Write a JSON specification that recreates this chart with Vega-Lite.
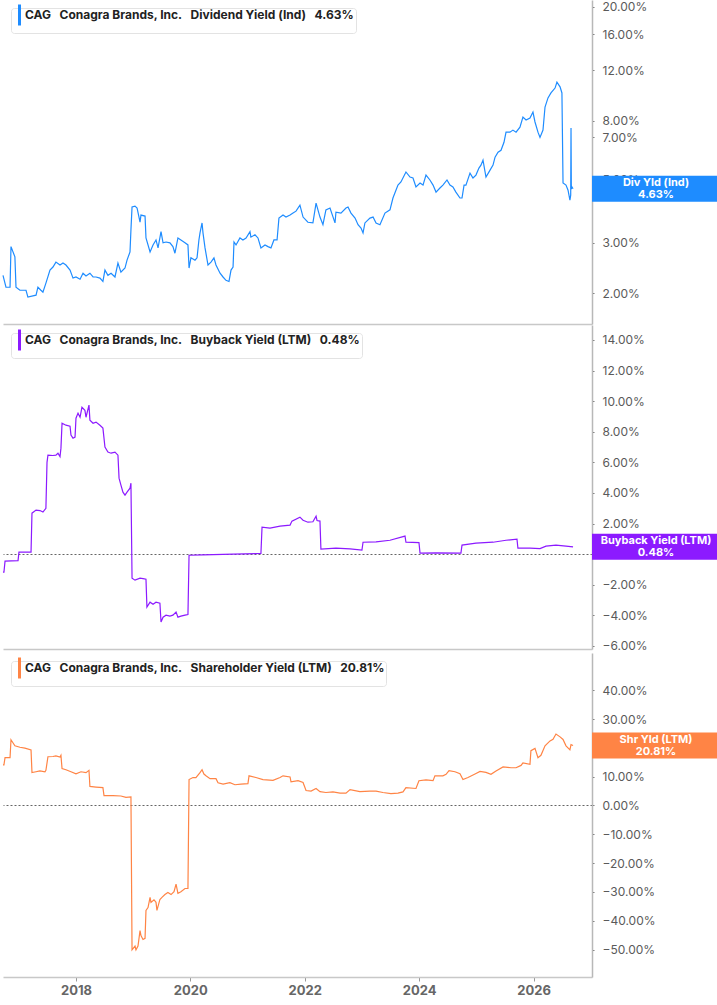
{
  "$schema": "https://vega.github.io/schema/vega-lite/v6.json",
  "padding": 0,
  "background": "white",
  "spacing": 1,
  "datasets": {
    "div": [
      {"date":"2016-09-22","value":2.31},{"date":"2016-10-11","value":2.10},{"date":"2016-11-06","value":2.10},{"date":"2016-11-12","value":2.91},{"date":"2016-12-07","value":2.68},{"date":"2016-12-14","value":2.10},{"date":"2017-01-08","value":2.05},{"date":"2017-02-16","value":2.05},{"date":"2017-02-28","value":1.94},{"date":"2017-04-01","value":1.96},{"date":"2017-04-21","value":1.97},{"date":"2017-05-03","value":2.10},{"date":"2017-05-22","value":2.05},{"date":"2017-06-04","value":2.02},{"date":"2017-06-23","value":2.17},{"date":"2017-07-19","value":2.41},{"date":"2017-08-07","value":2.47},{"date":"2017-08-26","value":2.57},{"date":"2017-09-21","value":2.51},{"date":"2017-10-10","value":2.55},{"date":"2017-10-29","value":2.51},{"date":"2017-11-24","value":2.41},{"date":"2017-12-13","value":2.26},
      {"date":"2018-01-01","value":2.28},{"date":"2018-01-27","value":2.24},{"date":"2018-02-15","value":2.35},{"date":"2018-03-06","value":2.30},{"date":"2018-03-31","value":2.35},{"date":"2018-04-20","value":2.28},{"date":"2018-05-09","value":2.28},{"date":"2018-06-03","value":2.26},{"date":"2018-06-22","value":2.20},{"date":"2018-07-05","value":2.41},{"date":"2018-07-24","value":2.31},{"date":"2018-08-13","value":2.35},{"date":"2018-09-07","value":2.28},{"date":"2018-09-26","value":2.55},{"date":"2018-10-15","value":2.37},{"date":"2018-11-10","value":2.45},{"date":"2018-11-23","value":2.61},{"date":"2018-12-12","value":2.79},{"date":"2018-12-18","value":3.33},{"date":"2018-12-25","value":4.00},
      {"date":"2019-01-13","value":4.03},{"date":"2019-01-26","value":3.97},{"date":"2019-02-14","value":3.54},{"date":"2019-02-20","value":3.75},{"date":"2019-03-18","value":3.72},{"date":"2019-03-24","value":3.12},{"date":"2019-04-19","value":2.79},{"date":"2019-05-08","value":2.95},{"date":"2019-05-27","value":3.07},{"date":"2019-06-09","value":2.88},{"date":"2019-06-28","value":3.28},{"date":"2019-07-11","value":3.00},{"date":"2019-07-30","value":3.02},{"date":"2019-08-24","value":3.00},{"date":"2019-09-12","value":2.91},{"date":"2019-09-25","value":2.76},{"date":"2019-10-14","value":3.12},{"date":"2019-11-02","value":3.07},{"date":"2019-11-28","value":3.00},{"date":"2019-12-17","value":2.95},{"date":"2019-12-24","value":2.45},
      {"date":"2020-01-05","value":2.66},{"date":"2020-01-31","value":2.61},{"date":"2020-02-13","value":2.66},{"date":"2020-02-25","value":3.07},{"date":"2020-03-03","value":3.25},{"date":"2020-03-16","value":3.52},{"date":"2020-03-22","value":3.25},{"date":"2020-04-04","value":2.88},{"date":"2020-04-23","value":2.51},{"date":"2020-05-12","value":2.57},{"date":"2020-05-31","value":2.66},{"date":"2020-06-13","value":2.51},{"date":"2020-07-09","value":2.35},{"date":"2020-07-28","value":2.28},{"date":"2020-08-16","value":2.22},{"date":"2020-09-04","value":2.20},{"date":"2020-09-17","value":2.41},{"date":"2020-09-30","value":2.47},{"date":"2020-10-06","value":3.02},{"date":"2020-10-19","value":2.95},{"date":"2020-11-13","value":3.12},{"date":"2020-12-02","value":3.07},{"date":"2020-12-22","value":3.12},
      {"date":"2021-01-16","value":3.28},{"date":"2021-01-22","value":3.14},{"date":"2021-02-17","value":3.20},{"date":"2021-03-08","value":3.12},{"date":"2021-03-27","value":2.88},{"date":"2021-04-22","value":2.95},{"date":"2021-05-11","value":2.91},{"date":"2021-05-30","value":2.88},{"date":"2021-06-18","value":3.07},{"date":"2021-07-08","value":3.07},{"date":"2021-07-20","value":3.66},{"date":"2021-08-15","value":3.75},{"date":"2021-09-03","value":3.69},{"date":"2021-09-29","value":3.75},{"date":"2021-10-18","value":3.81},{"date":"2021-11-06","value":3.87},{"date":"2021-12-01","value":4.06},{"date":"2021-12-21","value":3.69},
      {"date":"2022-01-21","value":3.54},{"date":"2022-02-22","value":3.52},{"date":"2022-03-14","value":4.13},{"date":"2022-04-08","value":3.69},{"date":"2022-04-27","value":3.47},{"date":"2022-05-16","value":3.91},{"date":"2022-06-11","value":3.97},{"date":"2022-07-13","value":3.52},{"date":"2022-07-19","value":3.84},{"date":"2022-08-20","value":3.81},{"date":"2022-09-21","value":3.97},{"date":"2022-10-04","value":4.00},{"date":"2022-10-23","value":3.81},{"date":"2022-11-18","value":3.66},{"date":"2022-12-07","value":3.47},{"date":"2022-12-26","value":3.38},
      {"date":"2023-01-08","value":3.25},{"date":"2023-01-20","value":3.52},{"date":"2023-02-21","value":3.66},{"date":"2023-03-13","value":3.69},{"date":"2023-04-01","value":3.52},{"date":"2023-04-26","value":3.47},{"date":"2023-05-28","value":3.81},{"date":"2023-06-29","value":3.91},{"date":"2023-07-18","value":4.30},{"date":"2023-08-19","value":4.77},{"date":"2023-09-07","value":4.89},{"date":"2023-10-09","value":5.30},{"date":"2023-11-04","value":5.09},{"date":"2023-11-23","value":5.05},{"date":"2023-12-12","value":4.70},
      {"date":"2024-01-07","value":4.85},{"date":"2024-01-26","value":4.77},{"date":"2024-02-14","value":5.17},{"date":"2024-03-10","value":4.97},{"date":"2024-03-30","value":4.77},{"date":"2024-04-18","value":4.51},{"date":"2024-05-13","value":4.66},{"date":"2024-06-01","value":4.77},{"date":"2024-06-27","value":4.97},{"date":"2024-07-16","value":4.77},{"date":"2024-08-04","value":4.70},{"date":"2024-08-23","value":4.51},{"date":"2024-09-18","value":4.30},{"date":"2024-10-01","value":4.30},{"date":"2024-10-14","value":4.77},{"date":"2024-10-26","value":4.77},{"date":"2024-11-21","value":5.25},{"date":"2024-12-10","value":5.05},{"date":"2024-12-29","value":5.17},
      {"date":"2025-01-17","value":5.47},{"date":"2025-01-30","value":5.60},{"date":"2025-02-12","value":5.83},{"date":"2025-03-03","value":5.09},{"date":"2025-03-29","value":5.38},{"date":"2025-04-17","value":5.60},{"date":"2025-04-30","value":5.97},{"date":"2025-05-19","value":6.21},{"date":"2025-06-07","value":6.31},{"date":"2025-06-26","value":6.73},{"date":"2025-07-09","value":7.30},{"date":"2025-08-03","value":7.30},{"date":"2025-08-22","value":7.42},{"date":"2025-09-11","value":7.30},{"date":"2025-10-06","value":7.60},{"date":"2025-10-25","value":8.24},{"date":"2025-11-14","value":8.05},{"date":"2025-12-09","value":8.18},{"date":"2025-12-28","value":8.58},
      {"date":"2026-01-10","value":7.92},{"date":"2026-01-29","value":7.30},{"date":"2026-02-11","value":7.00},{"date":"2026-03-02","value":7.42},{"date":"2026-03-15","value":8.93},{"date":"2026-04-03","value":9.61},{"date":"2026-04-22","value":10.0},{"date":"2026-05-18","value":10.4},{"date":"2026-05-30","value":10.9},{"date":"2026-06-19","value":10.5},{"date":"2026-07-01","value":10.0},{"date":"2026-07-08","value":4.85},{"date":"2026-07-27","value":4.77},{"date":"2026-08-09","value":4.58},{"date":"2026-08-21","value":4.23},{"date":"2026-08-26","value":4.40},{"date":"2026-08-28","value":7.54},{"date":"2026-08-30","value":4.62},{"date":"2026-09-03","value":4.70},{"date":"2026-09-10","value":4.63}
    ],
    "buy": [
      {"date":"2016-09-22","value":-1.18},{"date":"2016-09-28","value":-1.18},{"date":"2016-10-05","value":-0.46},{"date":"2016-12-27","value":-0.42},{"date":"2017-01-02","value":0.13},{"date":"2017-03-20","value":0.13},{"date":"2017-03-26","value":2.68},{"date":"2017-04-21","value":2.88},{"date":"2017-05-16","value":2.85},{"date":"2017-06-04","value":2.75},{"date":"2017-06-23","value":3.0},{"date":"2017-06-30","value":6.0},{"date":"2017-07-06","value":6.47},{"date":"2017-08-07","value":6.45},{"date":"2017-08-26","value":6.47},{"date":"2017-09-08","value":6.6},{"date":"2017-09-21","value":6.38},{"date":"2017-09-27","value":6.93},{"date":"2017-10-04","value":8.56},{"date":"2017-10-29","value":8.43},{"date":"2017-11-24","value":8.36},{"date":"2017-11-30","value":7.78},{"date":"2017-12-13","value":7.58},{"date":"2017-12-26","value":7.65},
      {"date":"2018-01-01","value":8.89},{"date":"2018-01-14","value":9.22},{"date":"2018-01-27","value":8.95},{"date":"2018-02-08","value":9.6},{"date":"2018-02-27","value":9.4},{"date":"2018-03-06","value":8.95},{"date":"2018-03-25","value":9.74},{"date":"2018-03-31","value":8.76},{"date":"2018-04-20","value":8.56},{"date":"2018-05-09","value":8.63},{"date":"2018-06-03","value":8.43},{"date":"2018-06-22","value":8.24},{"date":"2018-07-05","value":7.0},{"date":"2018-07-24","value":6.67},{"date":"2018-08-13","value":6.6},{"date":"2018-09-07","value":6.67},{"date":"2018-09-26","value":6.47},{"date":"2018-10-03","value":4.97},{"date":"2018-10-15","value":4.51},{"date":"2018-10-28","value":4.05},{"date":"2018-11-10","value":3.86},{"date":"2018-11-23","value":4.05},{"date":"2018-12-12","value":4.31},{"date":"2018-12-18","value":4.64},{"date":"2018-12-25","value":-1.57},
      {"date":"2019-01-13","value":-1.70},{"date":"2019-02-14","value":-1.57},{"date":"2019-03-05","value":-1.6},{"date":"2019-03-24","value":-1.64},{"date":"2019-03-30","value":-3.46},{"date":"2019-04-19","value":-3.14},{"date":"2019-05-08","value":-3.27},{"date":"2019-05-27","value":-3.14},{"date":"2019-06-21","value":-3.2},{"date":"2019-06-28","value":-4.44},{"date":"2019-07-11","value":-4.12},{"date":"2019-07-30","value":-3.99},{"date":"2019-08-24","value":-4.05},{"date":"2019-09-12","value":-3.99},{"date":"2019-10-02","value":-3.79},{"date":"2019-10-14","value":-4.12},{"date":"2019-11-02","value":-4.05},{"date":"2019-11-28","value":-3.99},{"date":"2019-12-17","value":-3.95},{"date":"2019-12-24","value":-0.07},
      {"date":"2020-03-22","value":-0.05},{"date":"2020-09-30","value":0.0},{"date":"2021-03-27","value":0.05},{"date":"2021-04-03","value":1.76},{"date":"2021-05-24","value":1.70},{"date":"2021-07-27","value":1.83},{"date":"2021-09-29","value":1.9},{"date":"2021-10-11","value":2.16},{"date":"2021-12-01","value":2.42},{"date":"2021-12-21","value":2.22},{"date":"2022-01-21","value":2.09},{"date":"2022-02-22","value":2.12},{"date":"2022-03-14","value":2.48},{"date":"2022-03-20","value":2.2},{"date":"2022-04-08","value":2.16},{"date":"2022-04-14","value":0.33},{"date":"2022-07-19","value":0.39},{"date":"2022-10-17","value":0.35},{"date":"2023-01-01","value":0.26},{"date":"2023-01-08","value":0.78},{"date":"2023-04-01","value":0.80},{"date":"2023-06-29","value":0.91},{"date":"2023-10-03","value":1.18},{"date":"2023-10-09","value":0.78},{"date":"2023-12-31","value":0.76},{"date":"2024-01-07","value":0.07},{"date":"2024-04-18","value":0.09},{"date":"2024-09-24","value":0.07},{"date":"2024-10-01","value":0.59},{"date":"2024-12-29","value":0.72},{"date":"2025-04-17","value":0.78},{"date":"2025-07-09","value":0.91},{"date":"2025-09-17","value":0.98},{"date":"2025-09-23","value":0.39},{"date":"2025-12-09","value":0.39},{"date":"2026-02-11","value":0.36},{"date":"2026-03-21","value":0.52},{"date":"2026-05-24","value":0.59},{"date":"2026-07-27","value":0.52},{"date":"2026-09-10","value":0.48}
    ],
    "shr": [
      {"date":"2016-09-22","value":14.1},{"date":"2016-09-28","value":14.1},{"date":"2016-10-05","value":16.6},{"date":"2016-11-06","value":16.6},{"date":"2016-11-12","value":22.8},{"date":"2016-12-07","value":20.7},{"date":"2017-01-08","value":20.2},{"date":"2017-02-09","value":19.9},{"date":"2017-03-20","value":19.3},{"date":"2017-03-26","value":11.4},{"date":"2017-04-21","value":11.7},{"date":"2017-05-16","value":12.0},{"date":"2017-06-17","value":11.7},{"date":"2017-06-23","value":12.2},{"date":"2017-07-06","value":16.9},{"date":"2017-08-07","value":17.0},{"date":"2017-08-26","value":17.2},{"date":"2017-09-21","value":16.8},{"date":"2017-09-27","value":17.4},{"date":"2017-10-04","value":12.8},{"date":"2017-10-29","value":12.4},{"date":"2017-11-30","value":11.7},
      {"date":"2018-01-01","value":11.0},{"date":"2018-02-02","value":11.7},{"date":"2018-03-06","value":11.4},{"date":"2018-03-25","value":12.2},{"date":"2018-03-31","value":6.6},{"date":"2018-05-09","value":6.4},{"date":"2018-06-22","value":6.2},{"date":"2018-06-29","value":3.45},{"date":"2018-08-25","value":3.45},{"date":"2018-10-15","value":3.3},{"date":"2018-11-16","value":2.8},{"date":"2018-12-18","value":3.0},{"date":"2018-12-25","value":-50.1},
      {"date":"2019-01-13","value":-48.8},{"date":"2019-01-19","value":-50.1},{"date":"2019-02-01","value":-48.8},{"date":"2019-02-14","value":-43.4},{"date":"2019-02-20","value":-45.1},{"date":"2019-03-05","value":-46.5},{"date":"2019-03-18","value":-46.1},{"date":"2019-03-24","value":-36.4},{"date":"2019-04-06","value":-35.4},{"date":"2019-04-19","value":-31.9},{"date":"2019-04-25","value":-33.6},{"date":"2019-05-14","value":-32.7},{"date":"2019-05-27","value":-33.6},{"date":"2019-06-02","value":-36.4},{"date":"2019-06-21","value":-32.6},{"date":"2019-07-04","value":-31.9},{"date":"2019-07-23","value":-30.9},{"date":"2019-08-11","value":-30.2},{"date":"2019-08-31","value":-30.9},{"date":"2019-09-19","value":-29.9},{"date":"2019-10-02","value":-27.3},{"date":"2019-10-14","value":-30.5},{"date":"2019-11-02","value":-29.9},{"date":"2019-11-28","value":-28.8},{"date":"2019-12-17","value":-28.8},{"date":"2019-12-24","value":9.0},
      {"date":"2020-01-18","value":9.7},{"date":"2020-02-06","value":9.7},{"date":"2020-03-03","value":11.4},{"date":"2020-03-16","value":12.4},{"date":"2020-03-28","value":10.9},{"date":"2020-04-10","value":10.3},{"date":"2020-05-06","value":9.3},{"date":"2020-06-13","value":9.3},{"date":"2020-06-26","value":7.9},{"date":"2020-07-28","value":7.4},{"date":"2020-09-10","value":7.9},{"date":"2020-10-12","value":7.2},{"date":"2020-11-20","value":7.4},
      {"date":"2021-01-03","value":7.6},{"date":"2021-01-10","value":10.3},{"date":"2021-02-23","value":9.7},{"date":"2021-04-09","value":9.0},{"date":"2021-06-12","value":8.7},{"date":"2021-07-27","value":9.7},{"date":"2021-08-15","value":10.3},{"date":"2021-09-29","value":9.9},{"date":"2021-10-05","value":8.2},{"date":"2021-11-19","value":8.6},{"date":"2021-12-21","value":8.0},
      {"date":"2022-01-09","value":5.2},{"date":"2022-02-10","value":5.0},{"date":"2022-03-14","value":5.9},{"date":"2022-04-08","value":4.8},{"date":"2022-05-16","value":4.5},{"date":"2022-06-30","value":4.7},{"date":"2022-08-14","value":4.3},{"date":"2022-09-21","value":4.3},{"date":"2022-10-17","value":5.5},{"date":"2022-12-19","value":4.8},
      {"date":"2023-02-21","value":5.0},{"date":"2023-04-01","value":5.0},{"date":"2023-05-15","value":4.5},{"date":"2023-07-05","value":4.1},{"date":"2023-08-19","value":4.3},{"date":"2023-09-20","value":4.7},{"date":"2023-10-09","value":6.2},{"date":"2023-12-12","value":5.9},{"date":"2023-12-31","value":8.6},
      {"date":"2024-02-14","value":8.9},{"date":"2024-03-30","value":8.6},{"date":"2024-04-11","value":10.3},{"date":"2024-06-01","value":10.3},{"date":"2024-06-21","value":10.8},{"date":"2024-07-10","value":12.1},{"date":"2024-08-17","value":11.7},{"date":"2024-09-18","value":11.0},{"date":"2024-10-07","value":9.0},{"date":"2024-11-08","value":9.7},{"date":"2024-12-23","value":10.9},
      {"date":"2025-01-24","value":11.8},{"date":"2025-03-03","value":11.5},{"date":"2025-04-04","value":10.8},{"date":"2025-05-06","value":12.0},{"date":"2025-06-20","value":13.4},{"date":"2025-08-10","value":13.1},{"date":"2025-09-11","value":13.1},{"date":"2025-10-13","value":13.9},{"date":"2025-10-25","value":14.8},{"date":"2025-12-09","value":14.3},{"date":"2025-12-15","value":19.0},
      {"date":"2026-01-10","value":19.8},{"date":"2026-01-29","value":16.6},{"date":"2026-02-17","value":17.4},{"date":"2026-03-15","value":20.7},{"date":"2026-04-16","value":22.4},{"date":"2026-05-05","value":23.0},{"date":"2026-05-24","value":24.8},{"date":"2026-06-19","value":23.8},{"date":"2026-07-08","value":22.9},{"date":"2026-07-27","value":20.7},{"date":"2026-08-21","value":19.3},{"date":"2026-08-28","value":21.1},{"date":"2026-09-10","value":20.81}
    ],
    "tagDiv": [{"value": 4.63, "name": "Div Yld (Ind)", "label": "4.63%"}],
    "tagBuy": [{"value": 0.48, "name": "Buyback Yield (LTM)", "label": "0.48%"}],
    "tagShr": [{"value": 20.81, "name": "Shr Yld (LTM)", "label": "20.81%"}]
  },
  "vconcat": [
    {
      "width": 589,
      "height": 324,
      "layer": [
        {
          "data": {"name": "div"},
          "mark": {"type": "line", "strokeWidth": 1.2},
          "encoding": {
            "x": {"field": "date", "type": "temporal",
              "scale": {"domain": [{"year": 2016, "month": 9, "date": 22}, {"year": 2027, "month": 1, "date": 9}]},
              "axis": {"labels": false, "ticks": false, "grid": false, "title": null, "domainColor": "#c8c8c8", "domainWidth": 1.5}},
            "y": {"field": "value", "type": "quantitative",
              "scale": {"type": "log", "domain": [1.563, 21.1], "nice": false},
              "axis": {"orient": "right", "values": [2, 3, 5, 7, 8, 12, 16, 20], "tickCount": 30,
                "labelExpr": "format(datum.value, '.2f') + '%'"}},
            "color": {"datum": "CAG\u00a0\u00a0\u00a0Conagra Brands, Inc.\u00a0\u00a0\u00a0Dividend Yield (Ind)\u00a0\u00a0\u00a04.63%",
              "scale": {"range": ["#1E8CFF"]}}
          }
        },
        {
          "data": {"name": "tagDiv"},
          "mark": {"type": "point", "filled": true, "opacity": 1, "shape": "M0,-0.203H2V0.203H0Z", "size": 16384, "color": "#1E8CFF"},
          "encoding": {"x": {"datum": {"year": 2027, "month": 1, "date": 9}, "type": "temporal"}, "y": {"field": "value", "type": "quantitative"}}
        },
        {
          "data": {"name": "tagDiv"},
          "mark": {"type": "text", "dx": 64, "dy": -6, "align": "center", "baseline": "middle", "font": "Inter", "fontSize": 11, "fontWeight": "bold", "color": "white"},
          "encoding": {"x": {"datum": {"year": 2027, "month": 1, "date": 9}, "type": "temporal"}, "y": {"field": "value", "type": "quantitative"}, "text": {"field": "name"}}
        },
        {
          "data": {"name": "tagDiv"},
          "mark": {"type": "text", "dx": 64, "dy": 6, "align": "center", "baseline": "middle", "font": "Inter", "fontSize": 11, "fontWeight": "bold", "color": "white"},
          "encoding": {"x": {"datum": {"year": 2027, "month": 1, "date": 9}, "type": "temporal"}, "y": {"field": "value", "type": "quantitative"}, "text": {"field": "label"}}
        }
      ]
    },
    {
      "width": 589,
      "height": 324,
      "layer": [
        {
          "data": {"name": "buy"},
          "mark": {"type": "line", "strokeWidth": 1.2},
          "encoding": {
            "x": {"field": "date", "type": "temporal",
              "scale": {"domain": [{"year": 2016, "month": 9, "date": 22}, {"year": 2027, "month": 1, "date": 9}]},
              "axis": {"labels": false, "ticks": false, "grid": false, "title": null, "domainColor": "#c8c8c8", "domainWidth": 1.5}},
            "y": {"field": "value", "type": "quantitative",
              "scale": {"domain": [-6.2, 14.98], "nice": false},
              "axis": {"orient": "right", "values": [-6, -4, -2, 0, 2, 4, 6, 8, 10, 12, 14], "tickCount": 30,
                "labelExpr": "format(datum.value, '.2f') + '%'",
                "grid": true, "gridDash": [2, 2], "gridWidth": 1,
                "gridColor": {"condition": {"test": "datum.value === 0", "value": "#666"}, "value": "transparent"}}},
            "color": {"datum": "CAG\u00a0\u00a0\u00a0Conagra Brands, Inc.\u00a0\u00a0\u00a0Buyback Yield (LTM)\u00a0\u00a0\u00a00.48%",
              "scale": {"range": ["#8C1AFF"]}}
          }
        },
        {
          "data": {"name": "tagBuy"},
          "mark": {"type": "point", "filled": true, "opacity": 1, "shape": "M0,-0.203H2V0.203H0Z", "size": 16384, "color": "#8C1AFF"},
          "encoding": {"x": {"datum": {"year": 2027, "month": 1, "date": 9}, "type": "temporal"}, "y": {"field": "value", "type": "quantitative"}}
        },
        {
          "data": {"name": "tagBuy"},
          "mark": {"type": "text", "dx": 64, "dy": -6, "align": "center", "baseline": "middle", "font": "Inter", "fontSize": 11, "fontWeight": "bold", "color": "white"},
          "encoding": {"x": {"datum": {"year": 2027, "month": 1, "date": 9}, "type": "temporal"}, "y": {"field": "value", "type": "quantitative"}, "text": {"field": "name"}}
        },
        {
          "data": {"name": "tagBuy"},
          "mark": {"type": "text", "dx": 64, "dy": 6, "align": "center", "baseline": "middle", "font": "Inter", "fontSize": 11, "fontWeight": "bold", "color": "white"},
          "encoding": {"x": {"datum": {"year": 2027, "month": 1, "date": 9}, "type": "temporal"}, "y": {"field": "value", "type": "quantitative"}, "text": {"field": "label"}}
        }
      ]
    },
    {
      "width": 589,
      "height": 324,
      "layer": [
        {
          "data": {"name": "shr"},
          "mark": {"type": "line", "strokeWidth": 1.2},
          "encoding": {
            "x": {"field": "date", "type": "temporal",
              "scale": {"domain": [{"year": 2016, "month": 9, "date": 22}, {"year": 2027, "month": 1, "date": 9}]},
              "axis": {"values": [{"year": 2018}, {"year": 2020}, {"year": 2022}, {"year": 2024}, {"year": 2026}], "format": "%Y",
                "grid": false, "title": null, "domainColor": "#c8c8c8", "domainWidth": 1.5, "tickSize": 4, "tickColor": "#999",
                "labelFont": "Inter", "labelFontSize": 13, "labelFontWeight": "bold", "labelColor": "#666", "labelPadding": 3}},
            "y": {"field": "value", "type": "quantitative",
              "scale": {"domain": [-59.5, 52.9], "nice": false},
              "axis": {"orient": "right", "values": [-50, -40, -30, -20, -10, 0, 10, 20, 30, 40], "tickCount": 30,
                "labelExpr": "format(datum.value, '.2f') + '%'",
                "grid": true, "gridDash": [2, 2], "gridWidth": 1,
                "gridColor": {"condition": {"test": "datum.value === 0", "value": "#666"}, "value": "transparent"}}},
            "color": {"datum": "CAG\u00a0\u00a0\u00a0Conagra Brands, Inc.\u00a0\u00a0\u00a0Shareholder Yield (LTM)\u00a0\u00a0\u00a020.81%",
              "scale": {"range": ["#FF8445"]}}
          }
        },
        {
          "data": {"name": "tagShr"},
          "mark": {"type": "point", "filled": true, "opacity": 1, "shape": "M0,-0.203H2V0.203H0Z", "size": 16384, "color": "#FF8445"},
          "encoding": {"x": {"datum": {"year": 2027, "month": 1, "date": 9}, "type": "temporal"}, "y": {"field": "value", "type": "quantitative"}}
        },
        {
          "data": {"name": "tagShr"},
          "mark": {"type": "text", "dx": 64, "dy": -6, "align": "center", "baseline": "middle", "font": "Inter", "fontSize": 11, "fontWeight": "bold", "color": "white"},
          "encoding": {"x": {"datum": {"year": 2027, "month": 1, "date": 9}, "type": "temporal"}, "y": {"field": "value", "type": "quantitative"}, "text": {"field": "name"}}
        },
        {
          "data": {"name": "tagShr"},
          "mark": {"type": "text", "dx": 64, "dy": 6, "align": "center", "baseline": "middle", "font": "Inter", "fontSize": 11, "fontWeight": "bold", "color": "white"},
          "encoding": {"x": {"datum": {"year": 2027, "month": 1, "date": 9}, "type": "temporal"}, "y": {"field": "value", "type": "quantitative"}, "text": {"field": "label"}}
        }
      ]
    }
  ],
  "resolve": {"scale": {"y": "independent", "color": "independent"}, "legend": {"color": "independent"}},
  "config": {
    "view": {"stroke": null},
    "axisY": {"grid": false, "title": null, "domainColor": "#b8b8b8", "domainWidth": 1.5, "tickColor": "#777", "tickSize": 2,
      "labelFont": "Inter", "labelFontSize": 12, "labelColor": "#5a5a5a", "labelPadding": 8, "labelOverlap": false},
    "legend": {"orient": "top-left", "offset": 8, "title": null, "fillColor": "white", "strokeColor": "#e3e3e3", "cornerRadius": 3,
      "padding": 1, "symbolType": "M0.75,-5.25V5.25", "symbolSize": 16, "symbolStrokeWidth": 3, "labelOffset": 1,
      "labelFont": "Inter", "labelFontSize": 12, "labelFontWeight": "bold", "labelColor": "#222", "labelLimit": 0}
  }
}
